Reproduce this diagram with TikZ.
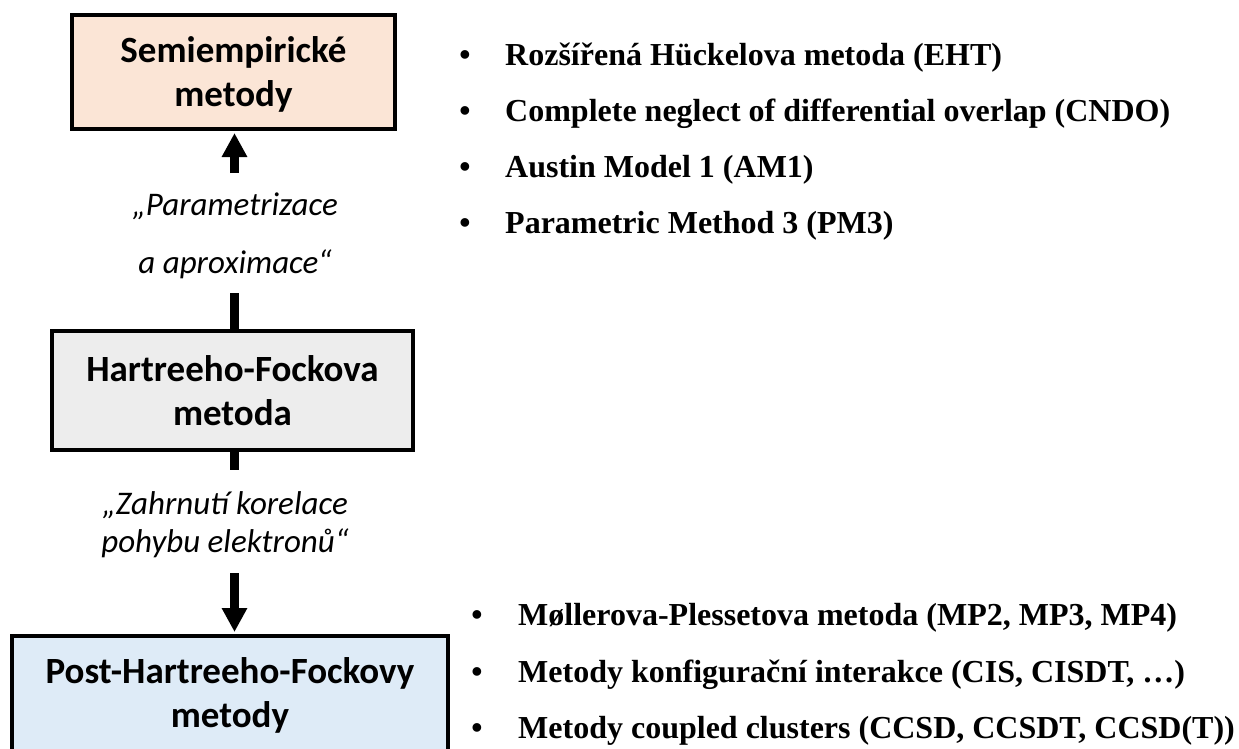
\documentclass[tikz,border=0pt]{standalone}
\usepackage{fontspec}
\setmainfont{Liberation Serif}
\newfontfamily\calfont{Carlito}
\usetikzlibrary{arrows.meta,calc}
\definecolor{peach}{HTML}{FBE5D6}
\definecolor{greyfill}{HTML}{EDEDED}
\definecolor{bluefill}{HTML}{DEEBF7}
\tikzset{
  box/.style={draw=black, line width=4pt, inner sep=0pt, align=center,
    font=\calfont\bfseries\fontsize{37}{44}\selectfont},
  boxtext/.style={inner sep=0pt, align=center, anchor=base,
    font=\calfont\bfseries\fontsize{37}{44}\selectfont},
  lbl/.style={inner sep=0pt, align=center, anchor=base, font=\calfont\itshape\fontsize{33}{38}\selectfont},
  conn/.style={line width=9pt},
  bigarrow/.style={line width=9pt, -{Triangle[width=24pt,length=24pt]}},
  itemtext/.style={inner sep=0pt, anchor=base west, font=\bfseries\fontsize{32}{40}\selectfont},
  bul/.style={inner sep=0pt, anchor=base, font=\bfseries\fontsize{32}{40}\selectfont}
}
\begin{document}
\begin{tikzpicture}[x=1pt,y=-1pt]
\useasboundingbox (0,0) rectangle (1239,748);
% boxes
\node[box, fill=peach, minimum width=323pt, minimum height=114pt] (semi) at (233.5,72) {};
\node[boxtext] (semitext) at (233.5,106) {Semiempirické\\metody};
\node[box, fill=greyfill, minimum width=361pt, minimum height=119pt] (hf) at (232.5,390.5) {Hartreeho-Fockova\\metoda};
\node[box, fill=bluefill, minimum width=436pt, minimum height=160pt, anchor=north] (post) at (230,634) {};
\node[boxtext] (posttext) at (230,727) {Post-Hartreeho-Fockovy\\metody};
% labels
\node[lbl, font=\calfont\itshape\fontsize{33}{58}\selectfont] (param) at (235,273) {„Parametrizace\\a aproximace“};
\node[lbl] (corr) at (225,552) {„Zahrnutí korelace\\pohybu elektronů“};
% connectors
\coordinate (a1start) at (234.5,173);
\coordinate (l1start) at (234.5,293);
\coordinate (l2end) at (234.5,470);
\coordinate (a2start) at (234.5,573);
\draw[bigarrow] (a1start) -- ($(semi.south)+(1,2)$);
\draw[conn] (l1start) -- ($(hf.north)+(2,0)$);
\draw[conn] ($(hf.south)+(2,0)$) -- (l2end);
\draw[bigarrow] (a2start) -- ($(post.north)+(4.5,-2)$);
% top list
\node[bul] (b1) at (465,65) {•};
\node[itemtext] (t1) at (505,65) {Rozšířená Hückelova metoda (EHT)};
\node[bul] (b2) at (465,121) {•};
\node[itemtext] (t2) at (505,121) {Complete neglect of differential overlap (CNDO)};
\node[bul] (b3) at (465,177) {•};
\node[itemtext] (t3) at (505,177) {Austin Model 1 (AM1)};
\node[bul] (b4) at (465,233) {•};
\node[itemtext] (t4) at (505,233) {Parametric Method 3 (PM3)};
% bottom list
\node[bul] (b5) at (477,625) {•};
\node[itemtext] (t5) at (518,625) {Møllerova-Plessetova metoda (MP2, MP3, MP4)};
\node[bul] (b6) at (477,682) {•};
\node[itemtext] (t6) at (518,682) {Metody konfigurační interakce (CIS, CISDT, …)};
\node[bul] (b7) at (477,738) {•};
\node[itemtext] (t7) at (518,738) {Metody coupled clusters (CCSD, CCSDT, CCSD(T))};
\end{tikzpicture}
\end{document}
